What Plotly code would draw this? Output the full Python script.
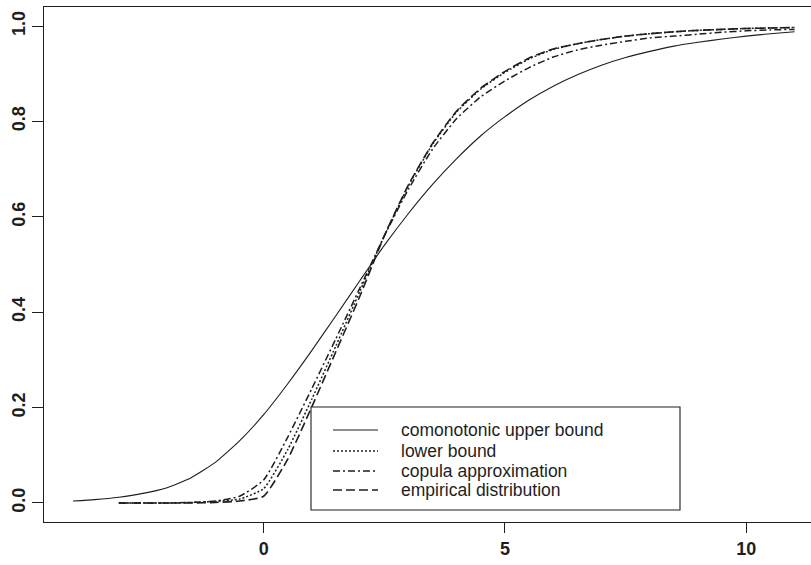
import plotly.graph_objects as go

# ---------------- data ----------------
x_upper = [-3.95, -3.5, -3.0, -2.5, -2.0, -1.5, -1.0, -0.5, 0.0, 0.5, 1.0, 1.5, 2.0,
           2.5, 3.0, 3.5, 4.0, 4.5, 5.0, 5.5, 6.0, 6.5, 7.0, 7.5, 8.0, 8.5, 9.0,
           9.5, 10.0, 10.5, 11.0]
y_upper = [0.004, 0.007, 0.012, 0.020, 0.032, 0.053, 0.085, 0.130, 0.185, 0.250,
           0.320, 0.393, 0.467, 0.540, 0.607, 0.668, 0.722, 0.770, 0.810, 0.845,
           0.874, 0.898, 0.918, 0.934, 0.947, 0.958, 0.966, 0.973, 0.979, 0.984, 0.988]

x_low = [-3.0, -2.5, -2.0, -1.5, -1.0, -0.5, 0.0, 0.5, 1.0, 1.5, 2.0, 2.5, 3.0, 3.5,
         4.0, 4.5, 5.0, 5.5, 6.0, 6.5, 7.0, 7.5, 8.0, 8.5, 9.0, 9.5, 10.0, 10.5, 11.0]
y_lower = [0.000, 0.000, 0.000, 0.001, 0.003, 0.008, 0.030, 0.112, 0.218, 0.330,
           0.445, 0.560, 0.665, 0.752, 0.820, 0.868, 0.903, 0.931, 0.951, 0.963,
           0.972, 0.979, 0.984, 0.988, 0.991, 0.993, 0.995, 0.996, 0.997]
y_copula = [0.000, 0.000, 0.000, 0.001, 0.004, 0.014, 0.048, 0.138, 0.240, 0.345,
            0.452, 0.560, 0.658, 0.742, 0.806, 0.852, 0.885, 0.913, 0.935, 0.950,
            0.960, 0.968, 0.975, 0.979, 0.983, 0.987, 0.990, 0.992, 0.993]
y_empirical = [0.000, 0.000, 0.000, 0.000, 0.001, 0.004, 0.014, 0.092, 0.202, 0.318,
               0.435, 0.560, 0.667, 0.754, 0.822, 0.870, 0.905, 0.933, 0.952, 0.963,
               0.972, 0.979, 0.984, 0.988, 0.991, 0.993, 0.995, 0.996, 0.997]

legend_labels = ["comonotonic upper bound", "lower bound",
                 "copula approximation", "empirical distribution"]
x_ticks = [0, 5, 10]
y_ticks = [0.0, 0.2, 0.4, 0.6, 0.8, 1.0]
y_tick_text = ["0.0", "0.2", "0.4", "0.6", "0.8", "1.0"]

# ---------------- styling ----------------
W, H = 811, 565
ML, MR, MT, MB = 44, 0, 7, 43
INK = "#1e1e1e"
dashes = ["solid", "2px,2px", "7px,3px,2px,3px", "9px,4px"]
widths = [1.1, 1.5, 1.5, 1.6]
series = [(x_upper, y_upper), (x_low, y_lower), (x_low, y_copula), (x_low, y_empirical)]

fig = go.Figure()
for (xs, ys), name, d, w in zip(series, legend_labels, dashes, widths):
    fig.add_trace(go.Scatter(x=xs, y=ys, mode="lines", name=name,
                             line=dict(color=INK, width=w, dash=d, shape="spline",
                                       smoothing=0.5),
                             showlegend=False, hoverinfo="skip"))

# manual legend (R style) placed in pixel positions converted to paper coords
pw, ph = W - ML - MR, H - MT - MB
def px(xp):
    return (xp - ML) / pw
def py(yp):
    return (H - MB - yp) / ph

shapes = [dict(type="rect", xref="paper", yref="paper",
               x0=px(311), x1=px(680), y0=py(510), y1=py(407),
               line=dict(color=INK, width=1.1), fillcolor="white", layer="above")]
annotations = []
rows = [430, 451, 471, 490]
for lab, d, w, r in zip(legend_labels, dashes, widths, rows):
    shapes.append(dict(type="line", xref="paper", yref="paper",
                       x0=px(333), x1=px(378), y0=py(r), y1=py(r),
                       line=dict(color=INK, width=w, dash=d), layer="above"))
    annotations.append(dict(xref="paper", yref="paper", x=px(399), y=py(r),
                            text=lab, showarrow=False, xanchor="left", yanchor="middle",
                            font=dict(family="Liberation Sans, Arial, sans-serif",
                                      size=17.5, color=INK)))

tickfont = dict(family="Liberation Sans, Arial, sans-serif", size=18, color=INK,
                weight="bold")
fig.update_layout(
    width=W, height=H,
    margin=dict(l=ML, r=MR, t=MT, b=MB, pad=0, autoexpand=False),
    paper_bgcolor="white", plot_bgcolor="white",
    shapes=shapes, annotations=annotations,
    xaxis=dict(range=[-4.55, 11.34], tickvals=x_ticks, ticktext=[str(t) for t in x_ticks],
               showgrid=False, zeroline=False, showline=True, mirror=True,
               linecolor=INK, linewidth=1.1, ticks="outside", ticklen=10,
               tickcolor=INK, tickwidth=1, tickfont=tickfont, ticklabelstandoff=0,
               automargin=False),
    yaxis=dict(range=[-0.04, 1.04], tickvals=y_ticks, ticktext=y_tick_text,
               showgrid=False, zeroline=False, showline=True, mirror=False,
               linecolor=INK, linewidth=1.1, ticks="outside", ticklen=11,
               tickcolor=INK, tickwidth=1, tickfont=tickfont, tickangle=-90,
               ticklabelstandoff=0, automargin=False),
)

fig.write_html("out.html",
               config={"displayModeBar": False, "staticPlot": True},
               post_script="document.body.style.margin='0';"
                           "document.body.style.overflow='hidden';")
